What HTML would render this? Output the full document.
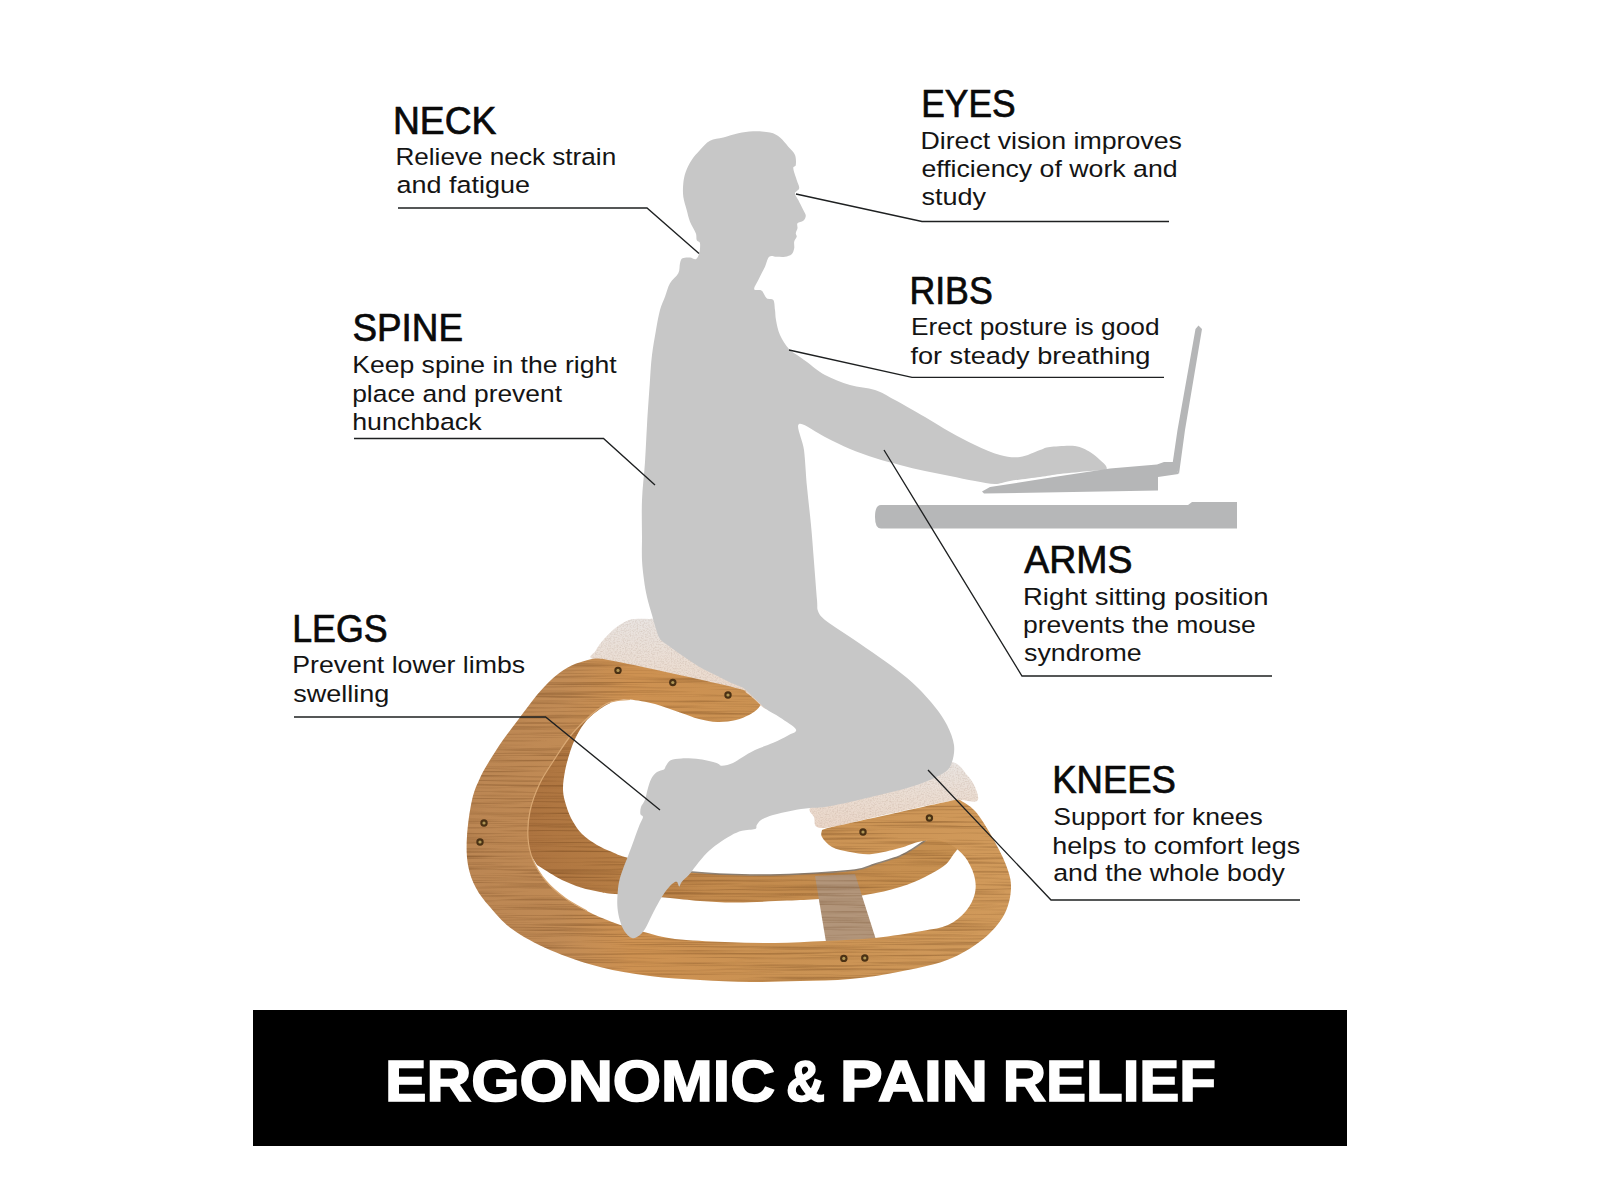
<!DOCTYPE html>
<html lang="en"><head><meta charset="utf-8"><title>Ergonomic &amp; Pain Relief</title>
<style>
html,body{margin:0;padding:0;background:#fff;}
body{width:1600px;height:1200px;overflow:hidden;}
svg{display:block;}
text{font-family:"Liberation Sans",sans-serif;}
.h{font-size:38.2px;fill:#0a0a0a;stroke:#0a0a0a;stroke-width:.7px;}
.b{font-size:24.5px;fill:#141414;}
.ban{font-size:56.5px;font-weight:bold;fill:#fff;stroke:#fff;stroke-width:1.6px;}
.ln{fill:none;stroke:#1e2021;stroke-width:1.35px;}
</style></head><body>
<svg width="1600" height="1200" viewBox="0 0 1600 1200">
<defs>
<linearGradient id="wd" gradientUnits="userSpaceOnUse" x1="470" y1="0" x2="1010" y2="0">
<stop offset="0" stop-color="#bb8653"/><stop offset=".17" stop-color="#c18b55"/><stop offset=".3" stop-color="#cd9151"/><stop offset=".6" stop-color="#ca9253"/><stop offset="1" stop-color="#d19a5b"/></linearGradient>
<linearGradient id="wf" gradientUnits="userSpaceOnUse" x1="530" y1="0" x2="970" y2="0">
<stop offset="0" stop-color="#ad7440"/><stop offset=".2" stop-color="#b67d44"/><stop offset=".4" stop-color="#c2894c"/><stop offset="1" stop-color="#c89151"/></linearGradient>
<linearGradient id="cs" x1="0" y1="0" x2="0" y2="1"><stop offset="0" stop-color="#e9e4e1"/><stop offset=".55" stop-color="#ebddd2"/><stop offset="1" stop-color="#ead6c8"/></linearGradient>
<filter id="grain" x="0" y="0" width="100%" height="100%" color-interpolation-filters="sRGB">
<feTurbulence type="fractalNoise" baseFrequency="0.008 0.45" numOctaves="3" seed="7" result="n"/>
<feColorMatrix in="n" type="matrix" values="0 0 0 0 0.36  0 0 0 0 0.2  0 0 0 0 0.06  0.9 0 0 0 -0.41" result="g"/>
<feComposite in="g" in2="SourceGraphic" operator="in" result="gc"/>
<feMerge><feMergeNode in="SourceGraphic"/><feMergeNode in="gc"/></feMerge>
</filter>
<filter id="fabric" x="0" y="0" width="100%" height="100%" color-interpolation-filters="sRGB">
<feTurbulence type="fractalNoise" baseFrequency="0.7 0.7" numOctaves="2" seed="11" result="n"/>
<feColorMatrix in="n" type="matrix" values="0 0 0 0 0.62  0 0 0 0 0.5  0 0 0 0 0.42  0.5 0 0 0 -0.21" result="g"/>
<feComposite in="g" in2="SourceGraphic" operator="in" result="gc"/>
<feMerge><feMergeNode in="SourceGraphic"/><feMergeNode in="gc"/></feMerge>
</filter>
</defs>
<rect width="1600" height="1200" fill="#fff"/>

<g id="chair">
<g filter="url(#grain)">
<path d="M612.0,702.0C610.0,703.2 604.2,706.0 600.0,709.0C595.8,712.0 590.8,715.7 587.0,720.0C583.2,724.3 579.8,729.7 577.0,735.0C574.2,740.3 572.0,746.0 570.0,752.0C568.0,758.0 566.2,764.7 565.0,771.0C563.8,777.3 562.8,784.3 563.0,790.0C563.2,795.7 564.5,800.0 566.0,805.0C567.5,810.0 569.3,815.2 572.0,820.0C574.7,824.8 577.8,829.8 582.0,834.0C586.2,838.2 592.0,842.0 597.0,845.0C602.0,848.0 607.3,850.0 612.0,852.0C616.7,854.0 617.0,854.7 625.0,857.0C633.0,859.3 648.8,863.5 660.0,866.0C671.2,868.5 677.0,870.5 692.0,872.0C707.0,873.5 732.0,874.7 750.0,875.0C768.0,875.3 782.5,874.8 800.0,874.0C817.5,873.2 842.5,871.7 855.0,870.0C867.5,868.3 867.5,866.3 875.0,864.0C882.5,861.7 893.3,858.8 900.0,856.0C906.7,853.2 910.0,850.5 915.0,847.5C920.0,844.5 925.0,840.9 930.0,838.0C935.0,835.1 942.5,831.3 945.0,830.0L975.0,840.0L968.0,852.0L960.0,846.0C958.8,847.5 955.5,851.8 953.0,855.0C950.5,858.2 949.7,861.3 945.0,865.0C940.3,868.7 932.5,873.3 925.0,877.0C917.5,880.7 910.0,884.0 900.0,887.0C890.0,890.0 878.3,893.0 865.0,895.0C851.7,897.0 833.0,898.1 820.0,899.0C807.0,899.9 800.8,900.0 787.0,900.6C773.2,901.2 751.5,902.4 737.0,902.5C722.5,902.6 712.0,901.8 700.0,901.0C688.0,900.2 679.2,898.7 665.0,897.5C650.8,896.3 625.8,894.9 615.0,894.0C604.2,893.1 605.7,893.1 600.0,892.0C594.3,890.9 587.3,889.5 581.0,887.5C574.7,885.5 568.0,882.9 562.0,880.0C556.0,877.1 549.2,872.5 545.0,870.0C540.8,867.5 538.3,865.8 537.0,865.0L515.0,830.0C516.7,823.3 519.2,803.3 525.0,790.0C530.8,776.7 541.7,762.5 550.0,750.0C558.3,737.5 570.8,720.8 575.0,715.0Z" fill="url(#wf)"/>
<path d="M660.0,866.0C665.3,867.0 677.0,870.5 692.0,872.0C707.0,873.5 732.0,874.7 750.0,875.0C768.0,875.3 782.5,874.8 800.0,874.0C817.5,873.2 842.5,871.7 855.0,870.0C867.5,868.3 867.5,866.3 875.0,864.0C882.5,861.7 893.3,858.8 900.0,856.0C906.7,853.2 910.7,850.2 915.0,847.5C919.3,844.8 924.2,841.2 926.0,840.0" fill="none" stroke="#8f8478" stroke-width="1.6"/>
<path d="M815.0,876.0L855.0,874.0L878.0,946.0L827.0,948.0Z" fill="#b2957a"/>
</g>
<g filter="url(#fabric)">
<path d="M591.8,658.5C587.7,656.5 593.9,653.8 595.5,651.0C597.1,648.2 599.1,645.0 601.5,642.0C603.9,639.0 606.9,635.8 609.8,633.0C612.6,630.2 615.6,627.6 618.8,625.5C621.9,623.4 625.4,621.4 628.5,620.2C631.6,619.1 634.1,619.0 637.5,618.8C640.9,618.5 645.0,618.6 648.8,619.0C652.5,619.4 653.1,617.5 660.0,621.0C666.9,624.5 680.0,633.5 690.0,640.0C700.0,646.5 706.3,650.0 720.0,660.0C733.7,670.0 764.3,691.8 772.0,700.0C779.7,708.2 770.5,710.2 766.0,709.0C761.5,707.8 754.3,697.3 745.0,693.0C735.7,688.7 724.2,686.6 710.0,683.0C695.8,679.4 675.0,674.8 660.0,671.5C645.0,668.2 631.4,665.2 620.0,663.0C608.6,660.8 595.8,660.5 591.8,658.5Z" fill="url(#cs)"/>
<path d="M812.0,806.0C806.0,810.2 812.3,813.3 814.0,817.0C815.7,820.7 811.8,828.0 822.0,828.0C832.2,828.0 857.8,820.7 875.0,817.0C892.2,813.3 911.3,808.8 925.0,806.0C938.7,803.2 948.3,800.8 957.0,800.0C965.7,799.2 974.0,803.2 977.0,801.0C980.0,798.8 976.7,791.3 975.0,787.0C973.3,782.7 970.8,779.2 967.0,775.0C963.2,770.8 959.8,763.2 952.0,762.0C944.2,760.8 937.0,763.0 920.0,768.0C903.0,773.0 868.0,785.7 850.0,792.0C832.0,798.3 818.0,801.8 812.0,806.0Z" fill="url(#cs)"/>
</g>
<path d="M760.6,705.0C759.3,703.8 755.4,700.1 753.0,698.0C750.6,695.9 748.2,694.0 746.0,692.5C743.8,691.0 749.3,691.5 740.0,689.0C730.7,686.5 705.8,680.9 690.0,677.3C674.2,673.7 659.2,670.5 645.0,667.5C630.8,664.5 613.3,660.7 604.5,659.3C595.7,657.9 594.1,659.0 592.0,659.0L592.0,659.0C589.2,659.8 580.3,661.8 575.0,664.0C569.7,666.2 564.8,669.0 560.0,672.5C555.2,676.0 550.5,680.4 546.0,685.0C541.5,689.6 537.7,694.2 533.0,700.0C528.3,705.8 523.0,713.3 518.0,720.0C513.0,726.7 507.7,733.3 503.0,740.0C498.3,746.7 493.8,753.7 490.0,760.0C486.2,766.3 483.0,771.3 480.0,778.0C477.0,784.7 474.2,790.3 472.0,800.0C469.8,809.7 467.7,825.2 467.0,836.0C466.3,846.8 466.5,856.3 468.0,865.0C469.5,873.7 472.3,881.0 476.0,888.0C479.7,895.0 484.0,900.2 490.0,907.0C496.0,913.8 502.0,921.8 512.0,929.0C522.0,936.2 535.3,943.7 550.0,950.0C564.7,956.3 583.3,962.7 600.0,967.0C616.7,971.3 633.3,973.8 650.0,976.0C666.7,978.2 683.3,979.0 700.0,980.0C716.7,981.0 733.3,981.8 750.0,982.0C766.7,982.2 783.3,981.5 800.0,981.0C816.7,980.5 833.7,980.5 850.0,979.0C866.3,977.5 881.8,975.2 898.0,972.0C914.2,968.8 933.0,965.3 947.0,960.0C961.0,954.7 972.5,947.5 982.0,940.0C991.5,932.5 999.2,923.7 1004.0,915.0C1008.8,906.3 1010.7,896.3 1011.0,888.0C1011.3,879.7 1009.3,873.8 1006.0,865.0C1002.7,856.2 996.2,844.0 991.0,835.0C985.8,826.0 980.2,816.8 975.0,811.0C969.8,805.2 962.5,801.8 960.0,800.0L960.0,800.0C958.3,800.2 960.0,799.0 950.0,801.0C940.0,803.0 916.7,808.3 900.0,812.0C883.3,815.7 861.7,820.4 850.0,823.0C838.3,825.6 834.7,826.3 830.0,827.5C825.3,828.7 823.3,829.6 822.0,830.0L822.0,830.0C822.0,831.2 820.3,834.2 822.0,837.0C823.7,839.8 827.3,844.5 832.0,847.0C836.7,849.5 843.3,850.8 850.0,852.0C856.7,853.2 863.7,854.7 872.0,854.0C880.3,853.3 892.3,850.0 900.0,848.0C907.7,846.0 912.2,843.3 918.0,842.0C923.8,840.7 929.5,839.5 935.0,840.0C940.5,840.5 946.0,842.2 951.0,845.0C956.0,847.8 961.2,852.0 965.0,857.0C968.8,862.0 972.3,869.0 974.0,875.0C975.7,881.0 976.3,887.0 975.0,893.0C973.7,899.0 970.5,905.7 966.0,911.0C961.5,916.3 955.3,921.7 948.0,925.0C940.7,928.3 934.2,928.8 922.0,931.0C909.8,933.2 891.2,936.3 875.0,938.0C858.8,939.7 841.7,940.2 825.0,941.0C808.3,941.8 791.7,942.8 775.0,943.0C758.3,943.2 741.7,942.7 725.0,942.0C708.3,941.3 688.5,940.7 675.0,939.0C661.5,937.3 654.5,934.8 644.0,932.0C633.5,929.2 621.5,925.5 612.0,922.0C602.5,918.5 594.8,915.0 587.0,911.0C579.2,907.0 571.8,903.0 565.0,898.0C558.2,893.0 551.3,887.3 546.0,881.0C540.7,874.7 536.0,867.2 533.0,860.0C530.0,852.8 528.5,846.2 528.0,838.0C527.5,829.8 528.0,820.2 530.0,811.0C532.0,801.8 535.7,792.0 540.0,783.0C544.3,774.0 550.7,765.2 556.0,757.0C561.3,748.8 566.2,741.0 572.0,734.0C577.8,727.0 585.3,720.0 591.0,715.0C596.7,710.0 601.5,706.4 606.0,704.0C610.5,701.6 614.0,701.2 618.0,700.5C622.0,699.8 623.8,698.9 630.0,699.5C636.2,700.1 646.7,701.8 655.0,704.0C663.3,706.2 672.7,710.0 680.0,712.5C687.3,715.0 692.8,717.4 699.0,719.0C705.2,720.6 711.3,721.8 717.5,722.0C723.7,722.2 730.8,721.2 736.0,720.0C741.2,718.8 745.4,716.8 749.0,715.0C752.6,713.2 755.6,710.7 757.5,709.0C759.4,707.3 760.1,705.7 760.6,705.0Z" fill="url(#wd)" filter="url(#grain)"/>
<path d="M587.0,911.0C583.3,908.8 571.8,903.0 565.0,898.0C558.2,893.0 551.3,887.3 546.0,881.0C540.7,874.7 536.0,867.2 533.0,860.0C530.0,852.8 528.5,846.2 528.0,838.0C527.5,829.8 528.0,820.2 530.0,811.0C532.0,801.8 535.7,792.0 540.0,783.0C544.3,774.0 550.7,765.2 556.0,757.0C561.3,748.8 566.2,741.0 572.0,734.0C577.8,727.0 585.3,720.0 591.0,715.0C596.7,710.0 601.5,706.4 606.0,704.0C610.5,701.6 614.0,701.2 618.0,700.5C622.0,699.8 628.0,699.7 630.0,699.5" fill="none" stroke="#d9a873" stroke-width="1.2"/>
<circle cx="618" cy="670.4" r="3.7" fill="#4a3114"/><circle cx="618" cy="670.4" r="1.6" fill="#b09755"/><circle cx="672.8" cy="682.5" r="3.7" fill="#4a3114"/><circle cx="672.8" cy="682.5" r="1.6" fill="#b09755"/><circle cx="728" cy="695" r="3.7" fill="#4a3114"/><circle cx="728" cy="695" r="1.6" fill="#b09755"/><circle cx="484" cy="823" r="3.7" fill="#4a3114"/><circle cx="484" cy="823" r="1.6" fill="#b09755"/><circle cx="480" cy="842" r="3.7" fill="#4a3114"/><circle cx="480" cy="842" r="1.6" fill="#b09755"/><circle cx="843.8" cy="958.4" r="3.7" fill="#4a3114"/><circle cx="843.8" cy="958.4" r="1.6" fill="#b09755"/><circle cx="864.8" cy="958" r="3.7" fill="#4a3114"/><circle cx="864.8" cy="958" r="1.6" fill="#b09755"/><circle cx="863" cy="832" r="3.7" fill="#4a3114"/><circle cx="863" cy="832" r="1.6" fill="#b09755"/><circle cx="929.4" cy="818" r="3.7" fill="#4a3114"/><circle cx="929.4" cy="818" r="1.6" fill="#b09755"/>
</g>
<path id="person" d="M738.3,133.3C743.3,132.3 748.0,131.4 753.3,131.3C758.6,131.2 765.5,131.5 770.0,132.5C774.5,133.5 777.0,135.1 780.0,137.5C783.0,139.9 785.8,143.8 788.3,146.7C790.8,149.6 793.8,151.9 795.0,155.0C796.2,158.1 796.1,162.8 795.8,165.0C795.5,167.2 793.1,165.8 793.3,168.3C793.4,170.8 795.7,176.7 796.7,180.0C797.7,183.3 799.5,186.1 799.2,188.3C798.9,190.5 795.1,191.4 795.0,193.3C794.9,195.2 796.9,197.2 798.3,200.0C799.7,202.8 802.0,207.4 803.3,210.0C804.5,212.6 805.8,214.0 805.8,215.8C805.8,217.6 804.7,219.6 803.3,220.8C801.9,222.1 798.5,222.1 797.5,223.3C796.5,224.6 797.8,226.6 797.5,228.3C797.2,230.0 795.9,231.9 795.8,233.3C795.7,234.7 797.0,235.3 796.7,236.7C796.4,238.1 794.6,239.8 794.2,241.7C793.8,243.6 794.6,246.2 794.2,248.3C793.8,250.4 793.2,252.8 791.7,254.2C790.2,255.6 787.5,256.3 785.0,256.7C782.5,257.1 779.3,256.7 776.7,256.7C774.1,256.7 771.2,255.0 769.2,256.7C767.2,258.4 766.8,262.8 765.0,266.7C763.2,270.6 760.1,276.2 758.3,280.0C756.5,283.8 753.6,287.4 754.2,289.2C754.8,291.0 759.6,289.3 761.7,290.8C763.8,292.3 764.8,296.8 766.7,298.3C768.6,299.8 771.9,298.1 773.3,300.0C774.7,301.9 774.5,306.7 775.0,310.0C775.5,313.3 775.2,315.8 776.0,320.0C776.8,324.2 777.8,330.2 780.0,335.0C782.2,339.8 785.7,345.3 789.0,349.0C792.3,352.7 797.0,354.8 800.0,357.0C803.0,359.2 802.8,359.0 807.0,362.0C811.2,365.0 817.8,371.2 825.0,375.0C832.2,378.8 841.7,382.5 850.0,385.0C858.3,387.5 867.5,387.5 875.0,390.0C882.5,392.5 886.7,395.5 895.0,400.0C903.3,404.5 915.8,411.7 925.0,417.0C934.2,422.3 941.7,427.3 950.0,432.0C958.3,436.7 966.7,441.2 975.0,445.0C983.3,448.8 992.5,453.0 1000.0,455.0C1007.5,457.0 1013.3,457.8 1020.0,457.0C1026.7,456.2 1035.0,451.7 1040.0,450.0C1045.0,448.3 1044.2,447.7 1050.0,447.0C1055.8,446.3 1068.3,445.2 1075.0,446.0C1081.7,446.8 1085.8,449.7 1090.0,452.0C1094.2,454.3 1097.3,457.7 1100.0,460.0C1102.7,462.3 1105.2,464.3 1106.0,466.0C1106.8,467.7 1107.7,469.2 1105.0,470.0C1102.3,470.8 1097.5,470.3 1090.0,471.0C1082.5,471.7 1068.3,473.0 1060.0,474.0C1051.7,475.0 1048.3,475.8 1040.0,477.0C1031.7,478.2 1017.5,479.8 1010.0,481.0C1002.5,482.2 1000.8,484.0 995.0,484.0C989.2,484.0 982.5,482.3 975.0,481.0C967.5,479.7 958.3,477.7 950.0,476.0C941.7,474.3 933.3,472.8 925.0,471.0C916.7,469.2 908.3,467.2 900.0,465.0C891.7,462.8 883.3,460.7 875.0,458.0C866.7,455.3 858.3,452.5 850.0,449.0C841.7,445.5 833.5,441.2 825.0,437.0C816.5,432.8 802.5,421.8 799.0,424.0C795.5,426.2 802.7,439.5 804.0,450.0C805.3,460.5 805.8,474.5 807.0,487.0C808.2,499.5 809.8,512.5 811.0,525.0C812.2,537.5 813.0,549.5 814.0,562.0C815.0,574.5 816.3,591.8 817.0,600.0C817.7,608.2 816.7,607.7 818.0,611.0C819.3,614.3 820.2,616.0 825.0,620.0C829.8,624.0 839.2,629.7 847.0,635.0C854.8,640.3 863.7,646.2 872.0,652.0C880.3,657.8 889.5,664.2 897.0,670.0C904.5,675.8 910.7,680.8 917.0,687.0C923.3,693.2 930.0,700.7 935.0,707.0C940.0,713.3 943.8,718.7 947.0,725.0C950.2,731.3 953.2,738.8 954.0,745.0C954.8,751.2 953.5,757.5 952.0,762.0C950.5,766.5 949.5,768.7 945.0,772.0C940.5,775.3 932.5,779.0 925.0,782.0C917.5,785.0 908.3,787.7 900.0,790.0C891.7,792.3 883.3,794.0 875.0,796.0C866.7,798.0 858.3,800.2 850.0,802.0C841.7,803.8 831.7,806.0 825.0,807.0C818.3,808.0 815.5,807.4 810.0,808.0C804.5,808.6 797.9,809.5 791.7,810.7C785.5,811.9 778.0,813.5 773.0,815.0C768.0,816.5 764.1,818.1 761.4,819.8C758.7,821.5 757.9,823.5 756.8,825.0C755.7,826.5 757.5,828.0 755.0,829.0C752.5,830.0 746.0,829.7 742.0,830.8C738.0,831.9 735.0,833.2 731.0,835.4C727.0,837.5 722.0,840.8 718.0,843.7C714.0,846.6 710.7,849.1 707.0,852.8C703.3,856.5 699.0,862.0 696.0,865.7C693.0,869.4 691.4,872.1 689.0,874.8C686.6,877.5 683.3,880.0 681.7,882.0C680.1,884.0 680.1,886.5 679.3,886.5C678.5,886.5 678.0,882.6 677.0,882.0C676.0,881.4 675.1,881.8 673.4,883.0C671.7,884.2 669.3,886.6 667.0,889.5C664.7,892.4 662.2,896.2 659.7,900.5C657.2,904.8 654.5,910.2 652.0,915.0C649.5,919.8 647.2,925.5 645.0,929.0C642.8,932.5 640.8,934.5 638.6,936.0C636.4,937.5 634.3,938.7 632.0,938.0C629.7,937.3 626.8,934.6 624.8,931.7C622.8,928.8 621.2,924.7 620.0,920.7C618.8,916.8 617.9,912.3 617.5,908.0C617.1,903.7 617.2,899.3 617.5,895.0C617.8,890.7 618.1,886.3 619.0,882.0C619.9,877.7 621.4,873.5 623.0,869.0C624.6,864.5 626.7,859.5 628.5,854.7C630.3,849.9 632.2,845.0 634.0,840.0C635.8,835.0 638.0,828.8 639.5,825.0C641.0,821.2 642.9,818.8 643.0,817.0C643.1,815.2 640.7,815.7 640.4,814.0C640.1,812.3 640.2,809.4 641.0,807.0C641.8,804.6 643.9,802.8 645.0,799.7C646.1,796.7 646.7,792.2 647.8,788.7C648.8,785.2 649.9,781.4 651.4,778.6C652.9,775.8 654.9,773.5 657.0,772.0C659.1,770.5 662.5,770.4 664.0,769.4C665.5,768.4 664.9,767.3 666.0,765.8C667.1,764.2 668.1,761.5 670.7,760.2C673.3,759.0 676.8,758.6 681.7,758.4C686.6,758.2 694.2,758.5 700.0,759.3C705.8,760.1 712.8,761.9 716.5,763.0C720.2,764.1 719.2,765.8 722.0,765.8C724.8,765.8 729.7,764.4 733.0,763.0C736.3,761.6 738.3,759.7 742.0,757.5C745.7,755.3 749.8,752.5 755.0,750.0C760.2,747.5 767.8,745.2 773.3,742.8C778.8,740.4 784.2,737.7 788.0,735.5C791.8,733.3 797.3,732.5 796.0,729.5C794.7,726.5 785.0,720.9 780.0,717.5C775.0,714.1 769.5,711.5 766.0,709.0C762.5,706.5 761.7,705.0 759.0,702.5C756.3,700.0 752.8,696.5 750.0,694.0C747.2,691.5 745.8,689.4 742.5,687.5C739.2,685.6 734.2,684.4 730.0,682.5C725.8,680.6 721.7,678.1 717.5,676.0C713.3,673.9 709.2,672.2 705.0,670.0C700.8,667.8 696.7,665.2 692.5,662.5C688.3,659.8 684.2,656.9 680.0,654.0C675.8,651.1 670.8,647.5 667.5,645.0C664.2,642.5 661.9,641.7 660.0,639.0C658.1,636.3 657.3,633.0 656.0,629.0C654.7,625.0 653.5,620.3 652.0,615.0C650.5,609.7 648.3,602.8 647.0,597.0C645.7,591.2 644.8,586.2 644.0,580.0C643.2,573.8 642.3,567.2 642.0,560.0C641.7,552.8 642.0,547.0 642.0,537.0C642.0,527.0 641.5,512.5 642.0,500.0C642.5,487.5 644.2,474.5 645.0,462.0C645.8,449.5 646.2,438.7 647.0,425.0C647.8,411.3 649.2,391.7 650.0,380.0C650.8,368.3 651.0,363.3 652.0,355.0C653.0,346.7 654.7,337.5 656.0,330.0C657.3,322.5 658.5,315.6 660.0,310.0C661.5,304.4 663.3,301.1 665.0,296.7C666.7,292.2 667.8,287.2 670.0,283.3C672.2,279.4 676.6,276.6 678.3,273.3C680.0,270.0 679.3,265.8 680.0,263.3C680.7,260.8 680.8,259.3 682.5,258.3C684.2,257.3 687.8,257.4 690.0,257.5C692.2,257.6 694.3,259.9 695.8,259.2C697.3,258.5 698.5,256.0 699.2,253.3C699.9,250.7 700.4,245.5 700.0,243.3C699.6,241.1 697.4,241.7 696.7,240.0C696.0,238.3 696.9,236.4 695.8,233.3C694.7,230.2 691.5,225.6 690.0,221.7C688.5,217.8 687.8,214.2 686.7,210.0C685.6,205.8 683.9,201.1 683.3,196.7C682.7,192.2 682.9,187.5 683.3,183.3C683.7,179.1 684.4,175.6 685.8,171.7C687.2,167.8 689.3,163.6 691.7,160.0C694.1,156.4 697.0,153.2 700.0,150.0C703.0,146.8 706.1,142.9 710.0,140.8C713.9,138.7 718.6,138.8 723.3,137.5C728.0,136.2 733.3,134.3 738.3,133.3Z" fill="#c7c7c7"/>
<g id="desk">
<path d="M881,505 H1188 L1192,502 H1237 V528.5 H881 Q875,528.5 875,517 Q875,505 881,505 Z" fill="#b6b7b8"/>
<path d="M982.0,491.5L990.0,487.0L1054.0,477.0L1110.0,468.4L1157.0,464.5L1164.0,462.0L1174.0,462.0L1178.5,474.0L1158.0,477.0L1158.0,490.5L984.0,493.5Z" fill="#b5b6b7"/>
<path d="M1172.5,464.0L1177.5,430.0L1195.5,329.0L1198.5,325.5L1202.0,329.0L1185.0,430.0L1179.0,474.0Z" fill="#b5b6b7"/>
</g>

<g class="ln">
<path d="M398,208 H647 L699,253.5"/>
<path d="M354,438.5 H603.5 L655,485"/>
<path d="M294,717 H545.6 L660,810"/>
<path d="M1169,221.5 H922 L796,194"/>
<path d="M1164,377.3 H912 L789,350"/>
<path d="M1272,676 H1022 L884,450"/>
<path d="M1300,900 H1051 L928,770"/>
</g>
<rect x="253" y="1010" width="1094" height="136" fill="#000"/>
<text class="h" x="393.0" y="133.5" textLength="103.4" lengthAdjust="spacingAndGlyphs">NECK</text>
<text class="b" x="395.4" y="165" textLength="220.8" lengthAdjust="spacingAndGlyphs">Relieve neck strain</text>
<text class="b" x="396.4" y="193" textLength="133.6" lengthAdjust="spacingAndGlyphs">and fatigue</text>
<text class="h" x="352.4" y="341.4" textLength="110.6" lengthAdjust="spacingAndGlyphs">SPINE</text>
<text class="b" x="352.2" y="373.3" textLength="264.4" lengthAdjust="spacingAndGlyphs">Keep spine in the right</text>
<text class="b" x="352.2" y="401.6" textLength="209.8" lengthAdjust="spacingAndGlyphs">place and prevent</text>
<text class="b" x="352.2" y="429.6" textLength="129.4" lengthAdjust="spacingAndGlyphs">hunchback</text>
<text class="h" x="292.2" y="642" textLength="95.4" lengthAdjust="spacingAndGlyphs">LEGS</text>
<text class="b" x="292.2" y="673.3" textLength="233.0" lengthAdjust="spacingAndGlyphs">Prevent lower limbs</text>
<text class="b" x="293.2" y="702.2" textLength="96.2" lengthAdjust="spacingAndGlyphs">swelling</text>
<text class="h" x="921.2" y="116.7" textLength="94.4" lengthAdjust="spacingAndGlyphs">EYES</text>
<text class="b" x="920.4" y="149" textLength="261.6" lengthAdjust="spacingAndGlyphs">Direct vision improves</text>
<text class="b" x="921.4" y="177.3" textLength="256.2" lengthAdjust="spacingAndGlyphs">efficiency of work and</text>
<text class="b" x="921.4" y="205" textLength="64.6" lengthAdjust="spacingAndGlyphs">study</text>
<text class="h" x="909.4" y="303.6" textLength="83.4" lengthAdjust="spacingAndGlyphs">RIBS</text>
<text class="b" x="911.0" y="335.4" textLength="248.6" lengthAdjust="spacingAndGlyphs">Erect posture is good</text>
<text class="b" x="910.4" y="364.1" textLength="240.0" lengthAdjust="spacingAndGlyphs">for steady breathing</text>
<text class="h" x="1024.2" y="572.7" textLength="108.2" lengthAdjust="spacingAndGlyphs">ARMS</text>
<text class="b" x="1023.0" y="605" textLength="245.6" lengthAdjust="spacingAndGlyphs">Right sitting position</text>
<text class="b" x="1023.0" y="633" textLength="232.8" lengthAdjust="spacingAndGlyphs">prevents the mouse</text>
<text class="b" x="1024.0" y="661.3" textLength="117.6" lengthAdjust="spacingAndGlyphs">syndrome</text>
<text class="h" x="1052.2" y="793.1" textLength="123.8" lengthAdjust="spacingAndGlyphs">KNEES</text>
<text class="b" x="1053.2" y="825" textLength="209.6" lengthAdjust="spacingAndGlyphs">Support for knees</text>
<text class="b" x="1052.2" y="853.7" textLength="248.0" lengthAdjust="spacingAndGlyphs">helps to comfort legs</text>
<text class="b" x="1053.2" y="881.3" textLength="231.8" lengthAdjust="spacingAndGlyphs">and the whole body</text>
<text class="ban" x="385.0" y="1100.5" textLength="390.0" lengthAdjust="spacingAndGlyphs">ERGONOMIC</text>
<text class="ban" x="786.0" y="1100.5" textLength="39.0" lengthAdjust="spacingAndGlyphs">&amp;</text>
<text class="ban" x="840.0" y="1100.5" textLength="148.0" lengthAdjust="spacingAndGlyphs">PAIN</text>
<text class="ban" x="1002.8" y="1100.5" textLength="213.2" lengthAdjust="spacingAndGlyphs">RELIEF</text>
</svg>
</body></html>
